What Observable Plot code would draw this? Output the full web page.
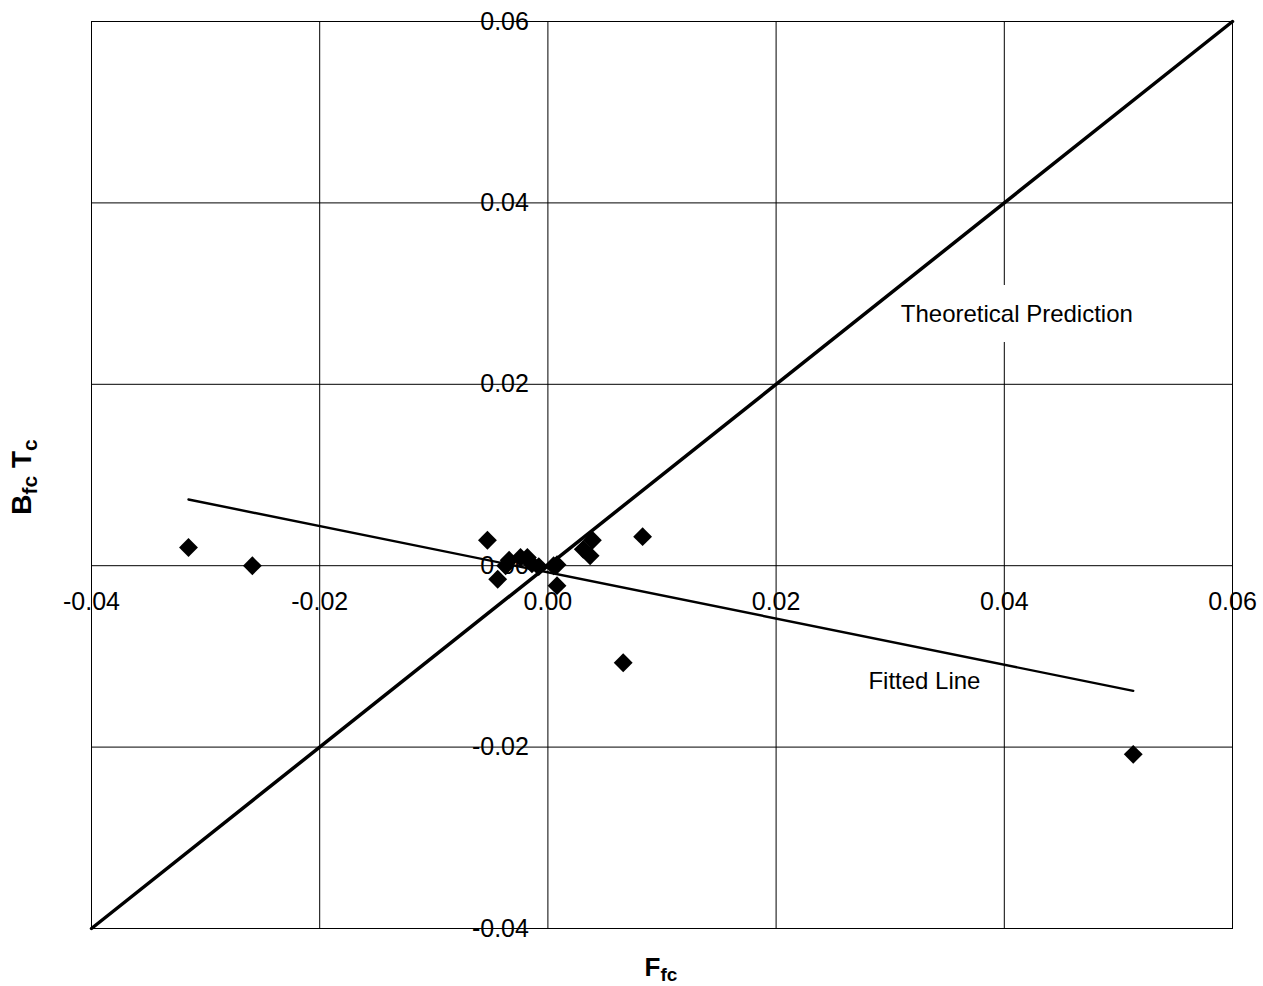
<!DOCTYPE html>
<html>
<head>
<meta charset="utf-8">
<script src="https://cdn.jsdelivr.net/npm/d3@7"></script>
<script src="https://cdn.jsdelivr.net/npm/@observablehq/plot@0.6"></script>
<style>
  html, body { margin: 0; padding: 0; background: #fff; }
  #chart { width: 1263px; height: 986px; }
</style>
</head>
<body>
<div id="chart"></div>
<script>
// Tick values
const xTicks = [-0.04, -0.02, 0.00, 0.02, 0.04, 0.06];
const yTicks = [-0.04, -0.02, 0.00, 0.02, 0.04, 0.06];

// Observed points (F_fc, B_fc T_c)
const ptX = [-0.0315, -0.0259, -0.0053, -0.0044, -0.0037, -0.0034, -0.0024, -0.0018, -0.0014, -0.0008, 0.0005, 0.0008, 0.0008, 0.0031, 0.0037, 0.0039, 0.0083, 0.0066, 0.0513];
const ptY = [0.0020, 0.0000, 0.0028, -0.0015, 0.0000, 0.0006, 0.0009, 0.0009, 0.0002, -0.0001, 0.0000, 0.0001, -0.0022, 0.0018, 0.0011, 0.0028, 0.0032, -0.0107, -0.0208];

// Theoretical prediction line (45 degree)
const theoX = [-0.04, 0.06];
const theoY = [-0.04, 0.06];

// Fitted line endpoints
const fitX = [-0.0315, 0.0513];
const fitY = [0.0073, -0.0138];

// Annotations
const labelText = ["Theoretical Prediction", "Fitted Line"];
const labelX = [0.0411, 0.0330];
const labelY = [0.0277, -0.0127];

const points = ptX.map((x, i) => ({x, y: ptY[i]}));
const theo = theoX.map((x, i) => ({x, y: theoY[i]}));
const fit = fitX.map((x, i) => ({x, y: fitY[i]}));
const labels = labelText.map((t, i) => ({t, x: labelX[i], y: labelY[i]}));
const fmt = d => d.toFixed(2);

const svg = Plot.plot({
  width: 1263,
  height: 986,
  marginLeft: 91,
  marginRight: 31,
  marginTop: 21,
  marginBottom: 58,
  style: {fontFamily: "'Liberation Sans', Arial, sans-serif", fontSize: "24px", background: "#fff", color: "#000"},
  x: {domain: [-0.04, 0.06], axis: null},
  y: {domain: [-0.04, 0.06], axis: null},
  marks: [
    Plot.ruleX(xTicks, {x: d => d, stroke: "#000", strokeWidth: 1}),
    Plot.ruleY(yTicks, {y: d => d, stroke: "#000", strokeWidth: 1}),
    Plot.frame({stroke: "#000", strokeWidth: 1}),
    Plot.text(yTicks, {x: 0, y: d => d, text: fmt, textAnchor: "end", dx: -19, fontSize: 25, fill: "#000"}),
    Plot.text(xTicks, {x: d => d, y: 0, text: fmt, dy: 36, fontSize: 25, fill: "#000"}),
    Plot.text(labels.slice(0, 1), {x: "x", y: "y", text: "t", fontSize: 24, fill: "#000", stroke: "#fff", strokeWidth: 40, strokeLinejoin: "miter"}),
    Plot.text(labels.slice(1), {x: "x", y: "y", text: "t", fontSize: 24, fill: "#000"}),
    Plot.line(theo, {x: "x", y: "y", stroke: "#000", strokeWidth: 3.5}),
    Plot.line(fit, {x: "x", y: "y", stroke: "#000", strokeWidth: 2.4}),
    Plot.dot(points, {x: "x", y: "y", symbol: "diamond2", r: 8.5, fill: "#000", stroke: "none"})
  ]
});

const s = d3.select(svg);
// x axis title F_fc
const xt = s.append("text")
  .attr("x", 661).attr("y", 976)
  .attr("text-anchor", "middle")
  .attr("font-family", "'Liberation Sans', Arial, sans-serif")
  .attr("font-weight", "bold").attr("font-size", 26).attr("fill", "#000");
xt.append("tspan").text("F");
xt.append("tspan").attr("font-size", 19).attr("dy", 5).text("fc");

// y axis title B_fc T_c
const yt = s.append("text")
  .attr("transform", "translate(31,477) rotate(-90)")
  .attr("text-anchor", "middle")
  .attr("font-family", "'Liberation Sans', Arial, sans-serif")
  .attr("font-weight", "bold").attr("font-size", 28).attr("fill", "#000");
yt.append("tspan").text("B");
yt.append("tspan").attr("font-size", 21).attr("dy", 6).text("fc");
yt.append("tspan").attr("dy", -6).text(" T");
yt.append("tspan").attr("font-size", 21).attr("dy", 6).text("c");

document.getElementById("chart").appendChild(svg);
</script>
</body>
</html>
